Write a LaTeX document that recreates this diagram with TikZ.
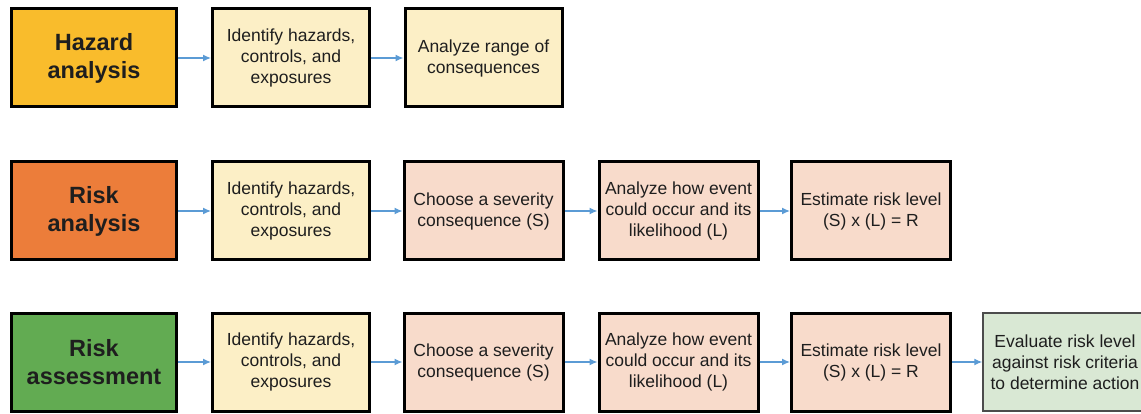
\documentclass[tikz,border=0pt]{standalone}
\usepackage{fontspec}
\setmainfont{Liberation Sans}
\usetikzlibrary{arrows.meta}
\definecolor{hazfill}{HTML}{F9BC2C}
\definecolor{riskfill}{HTML}{EC7D3A}
\definecolor{assessfill}{HTML}{62AB52}
\definecolor{idfill}{HTML}{FCEFC6}
\definecolor{stepfill}{HTML}{F8DBCB}
\definecolor{evalfill}{HTML}{D9E8D4}
\definecolor{flowblue}{HTML}{5B9BD5}
\definecolor{inktext}{HTML}{1E1E1E}
\begin{document}
\begin{tikzpicture}[x=1pt,y=-1pt,
  box/.style={draw=black,line width=3pt,inner sep=0pt,align=center,text=inktext,
    minimum height=98pt,font=\fontsize{17.5}{21}\selectfont},
  titlebox/.style={box,minimum width=165pt,font=\fontsize{23.5}{28}\selectfont\bfseries},
  idbox/.style={box,fill=idfill,minimum width=157pt},
  stepbox/.style={box,fill=stepfill,minimum width=159pt},
  evalbox/.style={box,draw=black!70,line width=1.5pt,fill=evalfill,minimum width=164pt},
  flow/.style={draw=flowblue,line width=1.2pt,-{Latex[length=8pt,width=7pt]}}
]
\useasboundingbox (0,0) rectangle (1141,414);

% Hazard analysis row
\node[titlebox,fill=hazfill] (h1) at (94,58) {Hazard\\analysis};
\node[idbox] (h2) at (291,58) {Identify hazards,\\controls, and\\exposures};
\node[idbox] (h3) at (483.5,58) {Analyze range of\\consequences};
\draw[flow] (h1) -- (h2);
\draw[flow] (h2) -- (h3);

% Risk analysis row
\node[titlebox,fill=riskfill] (r1) at (94,211) {Risk\\analysis};
\node[idbox] (r2) at (291,211) {Identify hazards,\\controls, and\\exposures};
\node[stepbox] (r3) at (483.5,211) {Choose a severity\\consequence (S)};
\node[stepbox] (r4) at (678.5,211) {Analyze how event\\could occur and its\\likelihood (L)};
\node[stepbox] (r5) at (871,211) {Estimate risk level\\(S) x (L) = R};
\draw[flow] (r1) -- (r2);
\draw[flow] (r2) -- (r3);
\draw[flow] (r3) -- (r4);
\draw[flow] (r4) -- (r5);

% Risk assessment row
\node[titlebox,fill=assessfill] (a1) at (94,362) {Risk\\assessment};
\node[idbox] (a2) at (291,362) {Identify hazards,\\controls, and\\exposures};
\node[stepbox] (a3) at (483.5,362) {Choose a severity\\consequence (S)};
\node[stepbox] (a4) at (678.5,362) {Analyze how event\\could occur and its\\likelihood (L)};
\node[stepbox] (a5) at (871,362) {Estimate risk level\\(S) x (L) = R};
\node[evalbox] (a6) at (1065,362) {Evaluate risk level\\against risk criteria\\to determine action};
\draw[flow] (a1) -- (a2);
\draw[flow] (a2) -- (a3);
\draw[flow] (a3) -- (a4);
\draw[flow] (a4) -- (a5);
\draw[flow] (a5) -- (a6);
\end{tikzpicture}
\end{document}
